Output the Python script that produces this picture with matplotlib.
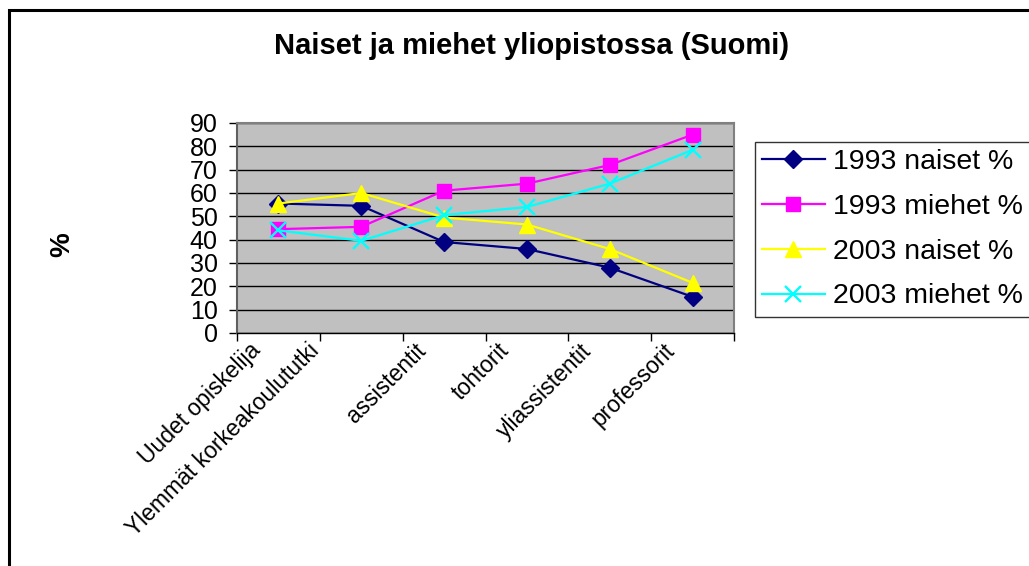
import matplotlib.pyplot as plt
from matplotlib.patches import Rectangle
from matplotlib.transforms import offset_copy

plt.rcParams['font.family'] = ['Liberation Sans', 'DejaVu Sans']

# Aineisto (luettu kuvasta)
categories = ["Uudet opiskelija", "Ylemmät korkeakoulututki", "assistentit",
              "tohtorit", "yliassistentit", "professorit"]
naiset_1993 = [55.5, 54.5, 39, 36, 28, 15.5]
miehet_1993 = [44.5, 45.5, 61, 64, 72, 85]
naiset_2003 = [55.5, 60, 49.5, 46.5, 36, 21.5]
miehet_2003 = [44, 39.5, 50.5, 54, 64, 78.5]
yticks = list(range(0, 100, 10))

W, H = 1029, 566
fig = plt.figure(figsize=(W / 100, H / 100), dpi=100)
fig.patch.set_facecolor("white")

# ulkoreunus (rajautuu oikealta ja alhaalta)
fig.patches.append(Rectangle((9 / W, -0.2), 1.5, 1 - 10 / H + 0.2,
                             transform=fig.transFigure, fill=False,
                             ec="black", lw=2.2))

left, right, top, bottom = 237, 734, 123, 333
ax = fig.add_axes([left / W, 1 - bottom / H, (right - left) / W, (bottom - top) / H])
ax.set_facecolor("#C0C0C0")

x = [i + 0.5 for i in range(len(categories))]
ax.plot(x, naiset_1993, color="#000080", lw=1.6, marker="D", ms=9.5, label="1993 naiset %")
ax.plot(x, miehet_1993, color="#FF00FF", lw=1.6, marker="s", ms=9.5, label="1993 miehet %")
ax.plot(x, naiset_2003, color="#FFFF00", lw=1.6, marker="^", ms=11.5, label="2003 naiset %")
ax.plot(x, miehet_2003, color="#00FFFF", lw=1.6, marker="x", ms=11, mew=1.7, label="2003 miehet %")

ax.set_xlim(0, len(categories))
ax.set_ylim(0, 90)
ax.set_yticks(yticks)
ax.yaxis.grid(True, color="black", lw=1)
ax.set_axisbelow(True)
ax.tick_params(axis="y", direction="out", length=6, width=1, pad=8, labelsize=18)
ax.set_xticks(range(len(categories) + 1))
ax.set_xticklabels([])
ax.tick_params(axis="x", direction="out", length=6, width=1)

for s in ["top", "right"]:
    ax.spines[s].set_color("#808080")
    ax.spines[s].set_linewidth(1.5)
ax.spines["left"].set_color("#606060")
ax.spines["left"].set_linewidth(1.5)
ax.spines["bottom"].set_color("black")
ax.spines["bottom"].set_linewidth(1)

# kallistetut luokkanimet (toinen nimi on katkaistu, joten se on vasemmempana)
label_shift = [0, -24, 0, 0, 0, 0]
for xi, lab, dx in zip(x, categories, label_shift):
    tr = offset_copy(ax.get_xaxis_transform(), fig=fig, x=-30 + dx, y=-6, units="dots")
    ax.text(xi, 0, lab, transform=tr, rotation=45, rotation_mode="anchor",
            ha="right", va="top", fontsize=16.5)

fig.text(532 / W, 1 - 46 / H, "Naiset ja miehet yliopistossa (Suomi)",
         ha="center", va="center", fontsize=21, fontweight="bold")
fig.text(62 / W, 1 - 245 / H, "%", rotation=90, ha="center", va="center",
         fontsize=20, fontweight="bold")

leg = fig.legend(loc="upper left", bbox_to_anchor=(755 / W, 1 - 142 / H),
                 borderaxespad=0, fontsize=20.5, frameon=True, fancybox=False,
                 handlelength=2.2, handletextpad=0.3, labelspacing=0.66,
                 borderpad=0.25)
leg.get_frame().set_edgecolor("black")
leg.get_frame().set_linewidth(1)

fig.savefig("out.png", dpi=100)
